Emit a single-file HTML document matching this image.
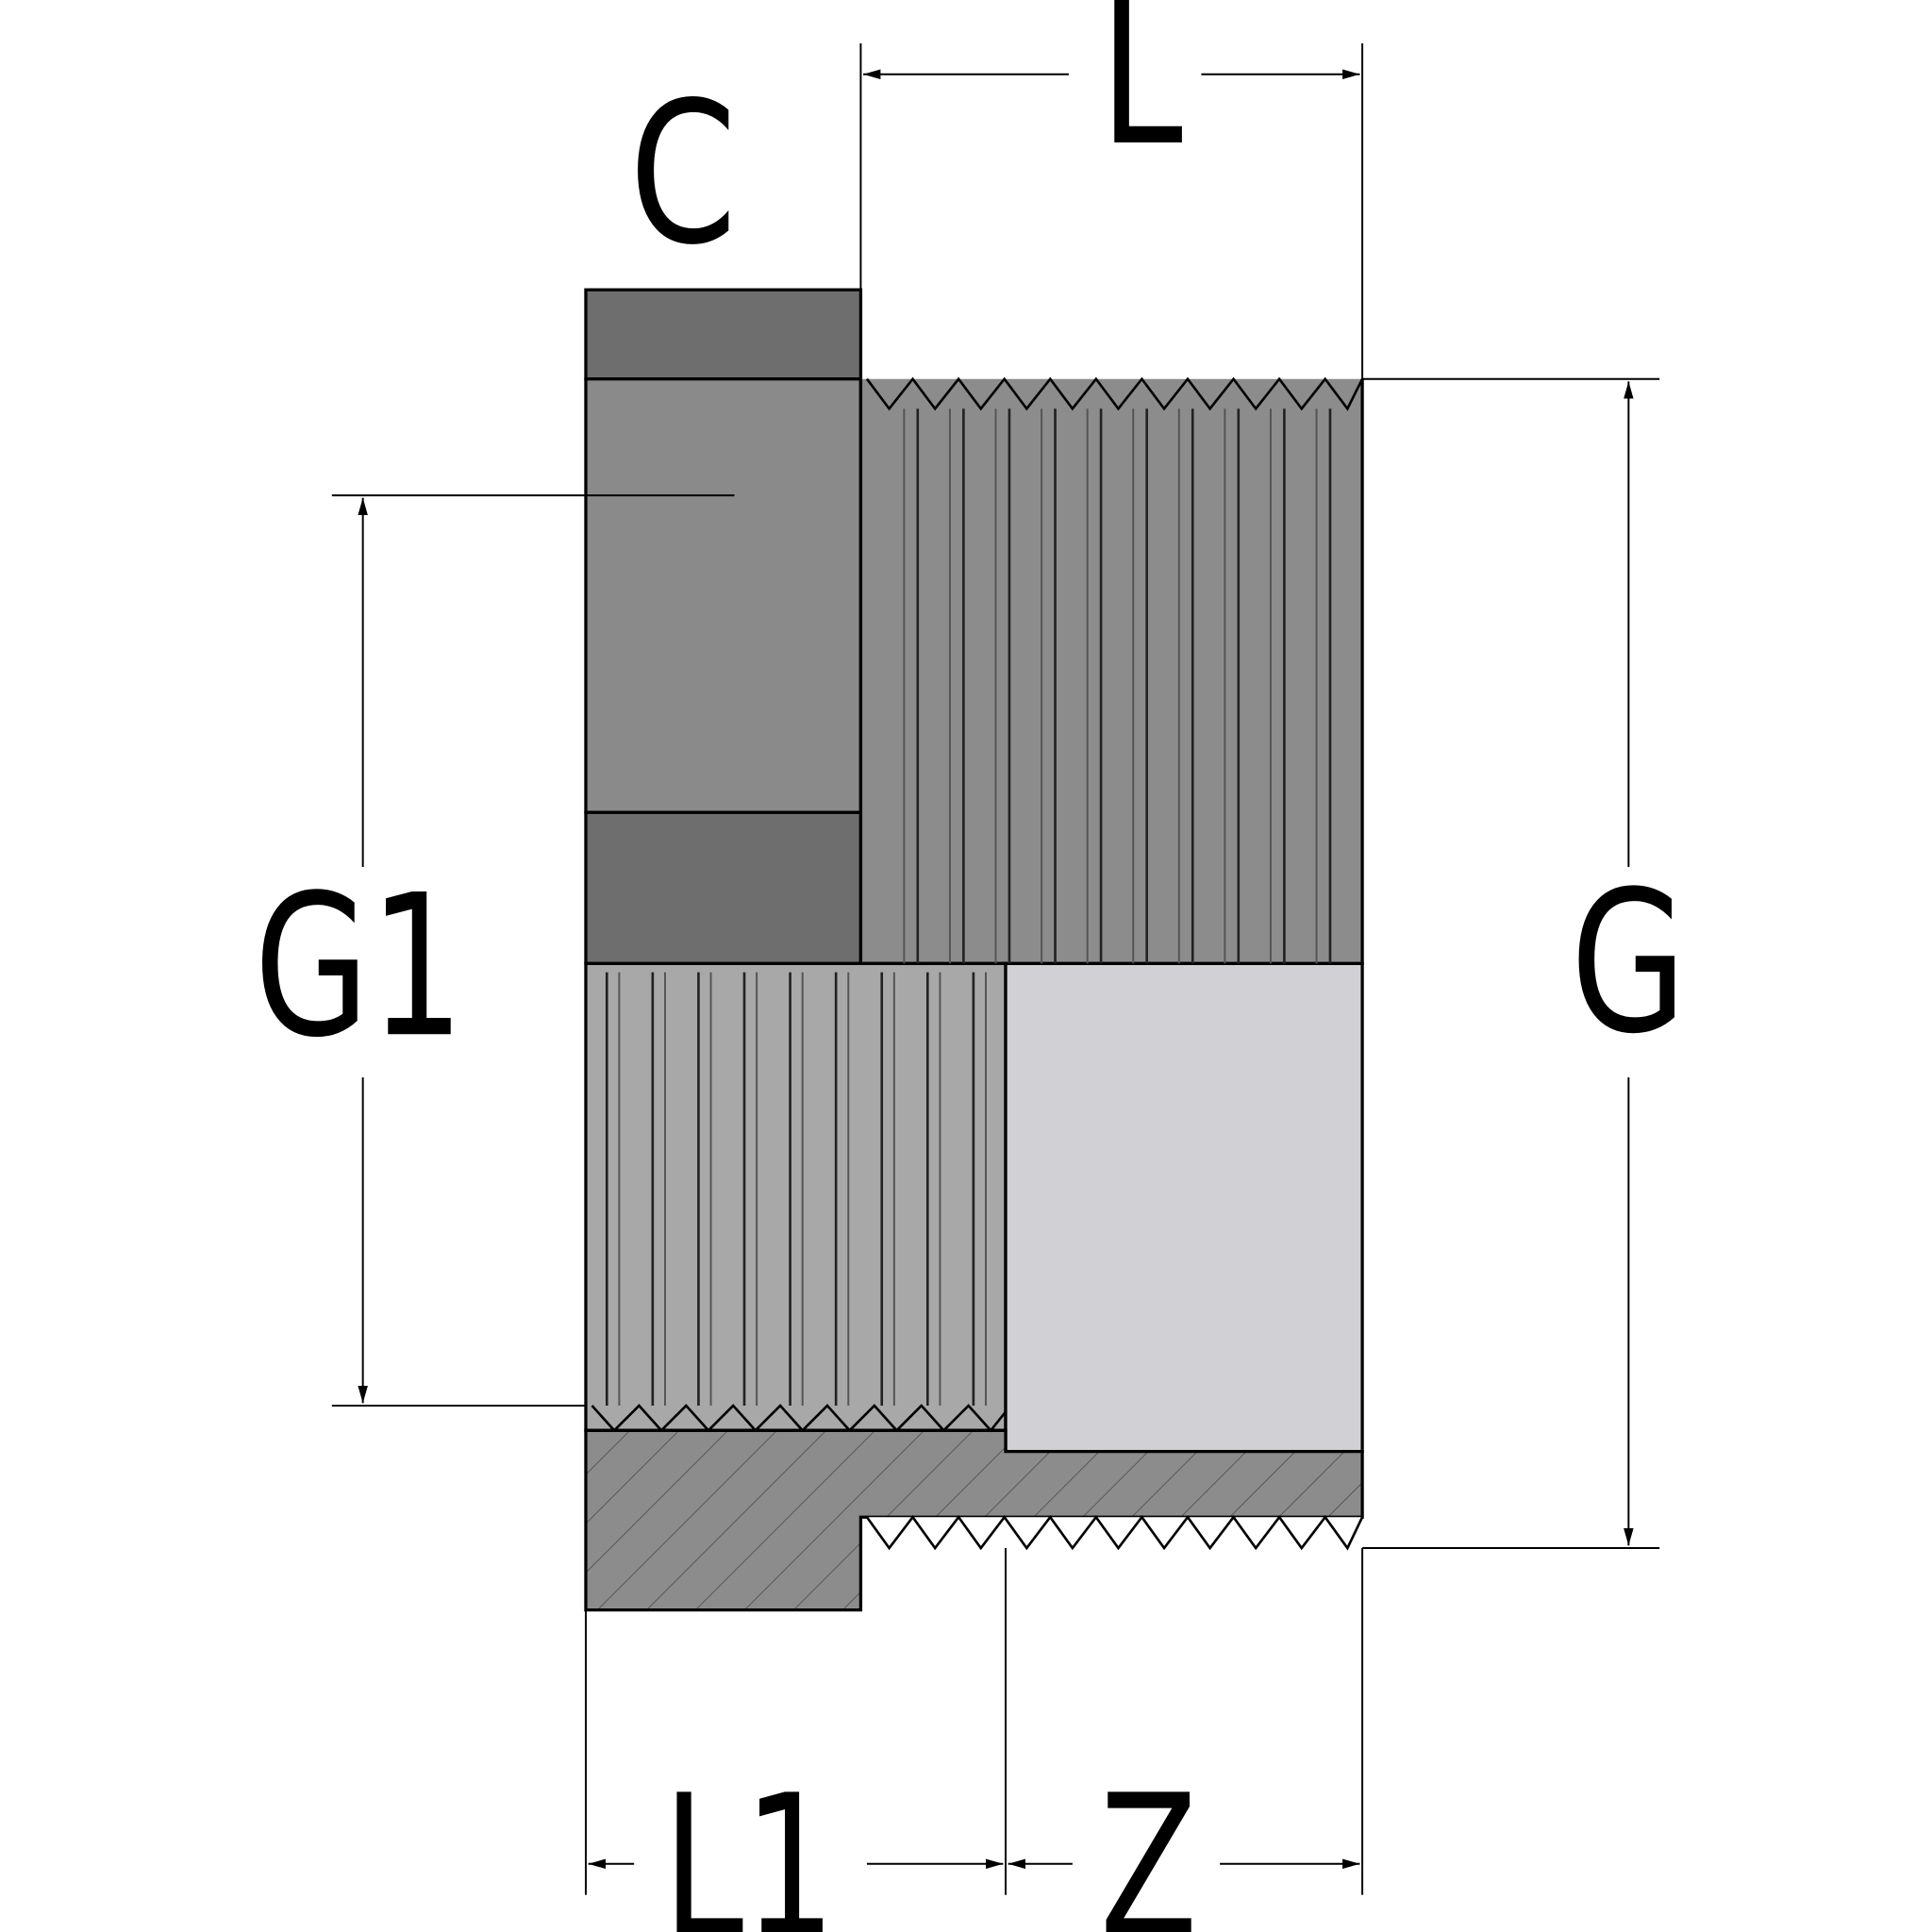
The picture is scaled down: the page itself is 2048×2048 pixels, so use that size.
<!DOCTYPE html>
<html><head><style>html,body{margin:0;padding:0;background:#fff}svg{display:block}</style></head>
<body>
<svg width="2048" height="2048" viewBox="0 0 1560 1560" xmlns="http://www.w3.org/2000/svg">
<defs>
<pattern id="h" patternUnits="userSpaceOnUse" width="28" height="28" patternTransform="rotate(45)">
<rect width="28" height="28" fill="#8c8c8c"/><line x1="0" y1="0" x2="0" y2="28" stroke="#555" stroke-width="1.5"/>
</pattern>
<marker id="a" markerWidth="14" markerHeight="8" refX="14" refY="4" orient="auto" markerUnits="userSpaceOnUse"><path d="M0,0 L14,4 L0,8 Z" fill="#000"/></marker>
</defs>
<g stroke="#000" stroke-width="2.5">
<rect x="473" y="234" width="222" height="72" fill="#6e6e6e"/>
<rect x="473" y="306" width="222" height="350" fill="#8a8a8a"/>
<rect x="473" y="656" width="222" height="122" fill="#6e6e6e"/>
<path d="M695,306 V778 H1100 V306" fill="#8c8c8c"/>
<rect x="473" y="778" width="339" height="377" fill="#a8a8a8"/>
<rect x="812" y="778" width="288" height="394" fill="#d0d0d5"/>
<path d="M473,1155 H812 V1172 H1100 V1225 H695 V1300 H473 Z" fill="url(#h)"/>
</g>
<g stroke="#222" stroke-width="2" fill="none">
<path d="M741,330V778M778,330V778M815,330V778M852,330V778M889,330V778M926,330V778M963,330V778M1000,330V778M1037,330V778M1074,330V778"/>
<path d="M490,785V1135M527,785V1135M564,785V1135M601,785V1135M638,785V1135M675,785V1135M712,785V1135M749,785V1135M786,785V1135"/>
</g>
<g stroke="#555" stroke-width="1.5" fill="none">
<path d="M730,330V778M767,330V778M804,330V778M841,330V778M878,330V778M915,330V778M952,330V778M989,330V778M1026,330V778M1063,330V778"/>
<path d="M500,785V1135M537,785V1135M574,785V1135M611,785V1135M648,785V1135M685,785V1135M722,785V1135M759,785V1135M796,785V1135"/>
</g>
<g stroke="#000" stroke-width="2" fill="none">
<path d="M700,306 L718,330 L737,306 L755,330 L774,306 L792,330 L811,306 L829,330 L848,306 L866,330 L885,306 L903,330 L922,306 L940,330 L959,306 L977,330 L996,306 L1014,330 L1033,306 L1051,330 L1070,306 L1088,330 L1100,306"/>
<path d="M478,1135 L496,1155 L516,1135 L534,1155 L554,1135 L572,1155 L592,1135 L610,1155 L630,1135 L648,1155 L668,1135 L686,1155 L706,1135 L724,1155 L744,1135 L762,1155 L782,1135 L800,1155 L812,1140"/>
<path d="M700,1225 L718,1250 L737,1225 L755,1250 L774,1225 L792,1250 L811,1225 L829,1250 L848,1225 L866,1250 L885,1225 L903,1250 L922,1225 L940,1250 L959,1225 L977,1250 L996,1225 L1014,1250 L1033,1225 L1051,1250 L1070,1225 L1088,1250 L1100,1225" fill="#fff"/>
</g>
<g stroke="#000" stroke-width="1.5" fill="none">
<path d="M695,35V234M1100,35V306M1100,306H1340M1100,1250H1340M268,400H593M268,1135H473M473,1300V1530M812,1250V1530M1100,1250V1530"/>
<path d="M863,60H697" marker-end="url(#a)"/><path d="M970,60H1098" marker-end="url(#a)"/>
<path d="M293,700V402" marker-end="url(#a)"/><path d="M293,870V1133" marker-end="url(#a)"/>
<path d="M1315,700V308" marker-end="url(#a)"/><path d="M1315,870V1248" marker-end="url(#a)"/>
<path d="M512,1505H475" marker-end="url(#a)"/><path d="M700,1505H810" marker-end="url(#a)"/>
<path d="M866,1505H814" marker-end="url(#a)"/><path d="M985,1505H1098" marker-end="url(#a)"/>
</g>
<g font-family="DejaVu Sans, Liberation Sans, sans-serif" font-size="158" fill="#000" lengthAdjust="spacingAndGlyphs">
<text x="508" y="195" textLength="87" lengthAdjust="spacingAndGlyphs">C</text>
<text x="888" y="115" textLength="67" lengthAdjust="spacingAndGlyphs">L</text>
<text x="205" y="835" textLength="170" lengthAdjust="spacingAndGlyphs">G1</text>
<text x="1268" y="832" textLength="94" lengthAdjust="spacingAndGlyphs">G</text>
<text x="535" y="1562" textLength="140" lengthAdjust="spacingAndGlyphs">L1</text>
<text x="888" y="1562" textLength="79" lengthAdjust="spacingAndGlyphs">Z</text>
</g>
</svg>
</body></html>
